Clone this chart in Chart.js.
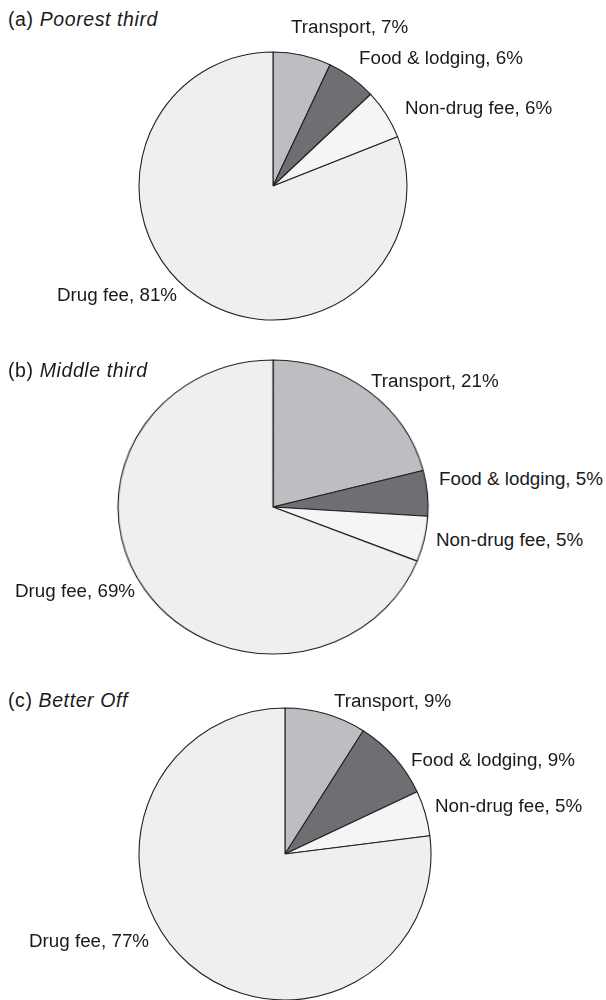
<!DOCTYPE html>
<html>
<head>
<meta charset="utf-8">
<script src="https://cdn.jsdelivr.net/npm/chart.js@4.4.1/dist/chart.umd.min.js"></script>
<style>
  html, body { margin:0; padding:0; background:#fff; }
  #page { position:relative; width:606px; height:1000px; overflow:hidden; background:#fff; }
  canvas { position:absolute; }
  .lbl { position:absolute; white-space:nowrap; font-family:"Liberation Sans", Arial, Helvetica, sans-serif; color:#1a1a1a; line-height:1; }
  .lbl i { font-style:italic; }
  .ttl { letter-spacing:0.6px; }
</style>
</head>
<body>
<div id="page"></div>
<script>
// ---- data ----
const categories = ['Transport', 'Food & lodging', 'Non-drug fee', 'Drug fee'];
const poorestThird = [7, 6, 6, 81];
const middleThird = [21, 5, 5, 69];
const betterOff = [9, 9, 5, 77];
const panelTags = ['(a)', '(b)', '(c)'];
const panelNames = ['Poorest third', 'Middle third', 'Better Off'];
const sliceColors = ['#bdbec1', '#6e6f73', '#f5f5f5', '#efefef'];

// ---- layout (positions only) ----
const FS = 18.8;
const TFS = 19.5;
const panels = [
  { values: poorestThird, cx: 273, cy: 186, r: 134, sx: 1,
    title: [8, 27],
    labels: [[291, 34], [359, 65], [405, 115], [57, 302]] },
  { values: middleThird, cx: 273, cy: 507, r: 147, sx: 155/147,
    title: [8, 378],
    labels: [[371, 388], [439, 486], [436, 547], [15, 598]] },
  { values: betterOff, cx: 285, cy: 854, r: 146, sx: 1,
    title: [8, 708],
    labels: [[334, 708], [411, 767], [435, 813], [29, 948]] }
];

const page = document.getElementById('page');
function place(html, x, baseline, fs, cls) {
  const d = document.createElement('div');
  d.className = 'lbl' + (cls ? ' ' + cls : '');
  d.style.fontSize = fs + 'px';
  d.style.left = x + 'px';
  d.style.top = (baseline - fs * 0.8465) + 'px';
  d.innerHTML = html;
  page.appendChild(d);
}

panels.forEach((p, idx) => {
  const size = 2 * p.r + 6;
  const c = document.createElement('canvas');
  c.width = size; c.height = size;
  c.style.width = size + 'px'; c.style.height = size + 'px';
  c.style.left = (p.cx - size / 2) + 'px';
  c.style.top = (p.cy - size / 2) + 'px';
  if (p.sx !== 1) { c.style.transform = 'scaleX(' + p.sx + ')'; c.style.transformOrigin = '50% 50%'; }
  page.appendChild(c);
  new Chart(c, {
    type: 'pie',
    data: {
      labels: categories,
      datasets: [{
        data: p.values,
        backgroundColor: sliceColors,
        borderColor: '#222222',
        borderWidth: 1.1
      }]
    },
    options: {
      responsive: false,
      animation: false,
      radius: p.r,
      layout: { padding: 0 },
      plugins: { legend: { display: false }, tooltip: { enabled: false } }
    }
  });
  place(panelTags[idx] + ' <i>' + panelNames[idx] + '</i>', p.title[0], p.title[1], TFS, 'ttl');
  categories.forEach((cat, i) => {
    place(cat + ', ' + p.values[i] + '%', p.labels[i][0], p.labels[i][1], FS);
  });
});
</script>
</body>
</html>
